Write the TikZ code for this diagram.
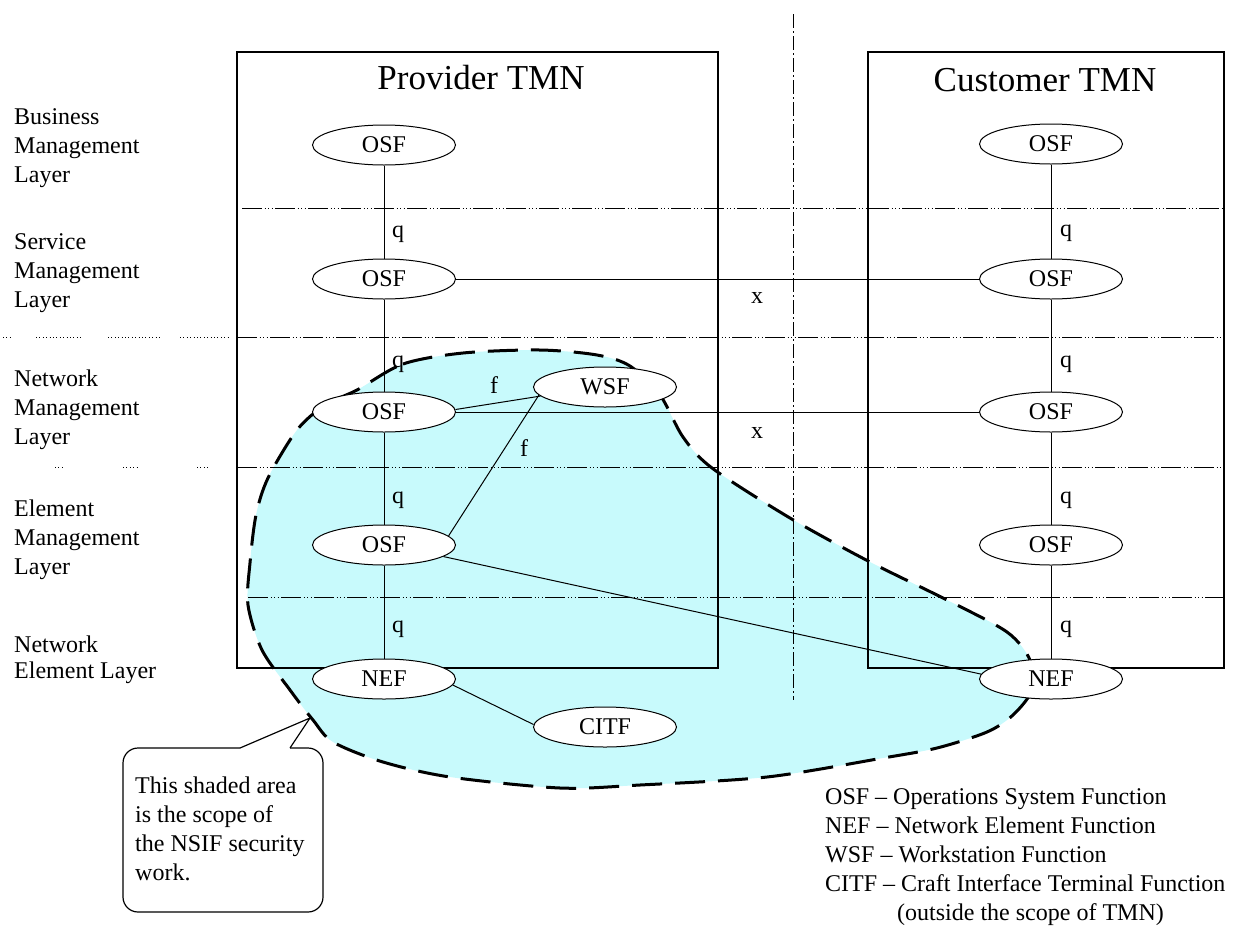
\documentclass[tikz,border=0pt]{standalone}
\usepackage{fontspec}
\setmainfont{Liberation Serif}
\usetikzlibrary{shapes.geometric}
\definecolor{scopefill}{RGB}{200,250,252}
\begin{document}
\begin{tikzpicture}[x=1pt,y=-1pt,
  fn/.style={ellipse,draw,fill=white,line width=1pt,minimum width=143pt,minimum height=40pt,inner sep=0pt,font=\fontsize{24}{29}\selectfont},
  lbl/.style={font=\fontsize{24}{29}\selectfont,inner sep=0pt,anchor=base west},
  layer/.style={font=\fontsize{24}{29}\selectfont,inner sep=0pt,anchor=north west,align=left},
  titletext/.style={font=\fontsize{35}{40}\selectfont,inner sep=0pt,anchor=base},
  conn/.style={line width=1pt},
  tmnbox/.style={line width=1.4pt},
  layerline/.style={line width=0.9pt,dash pattern=on 20pt off 2.5pt on 1pt off 2.5pt on 1pt off 2.5pt on 1pt off 2.5pt},
  dotsline/.style={line width=0.9pt,dash pattern=on 1pt off 2.4pt},
  dashdotline/.style={line width=1pt,dash pattern=on 14pt off 3pt on 2pt off 3pt},
  scopeline/.style={line width=3pt,dash pattern=on 30pt off 13pt,fill=scopefill},
  callout/.style={line width=1.2pt}]
\useasboundingbox (0,0) rectangle (1242,927);

% shaded scope area
\draw[scopeline] plot[smooth cycle,tension=0.5] coordinates {
 (357,390) (403,364) (463,353) (540,350) (597,355) (630,366) (660,395)
 (683,437) (712,468) (790,518) (870,562) (947,600) (1007,632) (1030,660)
 (1032,690) (1013,715) (987,732) (937,748) (883,758) (767,777) (640,785)
 (560,788) (450,777) (383,762) (333,742) (313,720) (290,690) (262,650)
 (248,605) (250,563) (256,515) (268,478) (297,430) (325,405)};

% TMN boxes
\draw[tmnbox] (237,52) rectangle (718,668);
\draw[tmnbox] (868,52) rectangle (1224,668);

% layer separators
\draw[layerline] (242,208) -- (1224,208);
\draw[layerline] (237,337) -- (1224,337);
\draw[layerline] (237,467) -- (1224,467);
\draw[layerline] (248,597) -- (1224,597);
\draw[dotsline] (3,337) -- (11,337);
\draw[dotsline] (36,337) -- (83,337);
\draw[dotsline] (108,337) -- (162,337);
\draw[dotsline] (180,337) -- (230,337);
\draw[dotsline] (55,467) -- (63,467);
\draw[dotsline] (123,467) -- (137,467);
\draw[dotsline] (197,467) -- (210,467);

% provider / customer boundary
\draw[dashdotline] (793,14) -- (793,700);

% titles
\node[titletext] (ptitle) at (481,89) {Provider TMN};
\node[titletext] (ctitle) at (1045,91) {Customer TMN};

% layer labels
\node[layer] (lbus) at (14,108.6) {Business\\Management\\Layer};
\node[layer] (lser) at (14,233.6) {Service\\Management\\Layer};
\node[layer] (lnet) at (14,369.6) {Network\\Management\\Layer};
\node[layer] (lele) at (14,499.6) {Element\\Management\\Layer};
\node[layer,font=\fontsize{24}{26}\selectfont] (lne) at (14,635.6) {Network\\Element Layer};

% function nodes
\node[fn] (p1) at (384,145) {OSF};
\node[fn] (p2) at (384,279) {OSF};
\node[fn] (p3) at (384,412) {OSF};
\node[fn] (p4) at (384,545) {OSF};
\node[fn] (pn) at (384,679) {NEF};
\node[fn] (wsf) at (605,387) {WSF};
\node[fn] (citf) at (605,727) {CITF};
\node[fn] (c1) at (1051,144) {OSF};
\node[fn] (c2) at (1051,279) {OSF};
\node[fn] (c3) at (1051,412) {OSF};
\node[fn] (c4) at (1051,545) {OSF};
\node[fn] (cn) at (1051,679) {NEF};

% connectors
\draw[conn] (p1) -- (p2);
\draw[conn] (p2) -- (p3);
\draw[conn] (p3) -- (p4);
\draw[conn] (p4) -- (pn);
\draw[conn] (c1) -- (c2);
\draw[conn] (c2) -- (c3);
\draw[conn] (c3) -- (c4);
\draw[conn] (c4) -- (cn);
\draw[conn] (p2) -- (c2);
\draw[conn] (p3) -- (c3);
\draw[conn] (p3.2) -- (wsf.188);
\draw[conn] (p4.8) -- (wsf.187);
\draw[conn] (p4.-11) -- (cn.176);
\draw[conn] (pn.-5) -- (citf.178);

% interface labels
\node[lbl] (qp1) at (392,237) {q};
\node[lbl] (qp2) at (392,367) {q};
\node[lbl] (qp3) at (392,503) {q};
\node[lbl] (qp4) at (392,632) {q};
\node[lbl] (qc1) at (1060,236) {q};
\node[lbl] (qc2) at (1060,367) {q};
\node[lbl] (qc3) at (1060,503) {q};
\node[lbl] (qc4) at (1060,632) {q};
\node[lbl,anchor=base] (x1) at (757,303) {x};
\node[lbl,anchor=base] (x2) at (757,438) {x};
\node[lbl] (f1) at (490,393) {f};
\node[lbl] (f2) at (520,456) {f};

% callout
\draw[callout,rounded corners=15pt] (290,748) -- (323,748) -- (323,912) -- (123,912) -- (123,748) -- (240,748);
\draw[callout] (240,748) -- (310,718) -- (290,748);
\node[layer] (note) at (135,776.6) {This shaded area\\is the scope of\\the NSIF security\\work.};

% legend
\node[layer] (legend) at (825,788.6) {OSF -- Operations System Function\\NEF -- Network Element Function\\WSF -- Workstation Function\\CITF -- Craft Interface Terminal Function\\\hspace*{72pt}(outside the scope of TMN)};
\end{tikzpicture}
\end{document}
